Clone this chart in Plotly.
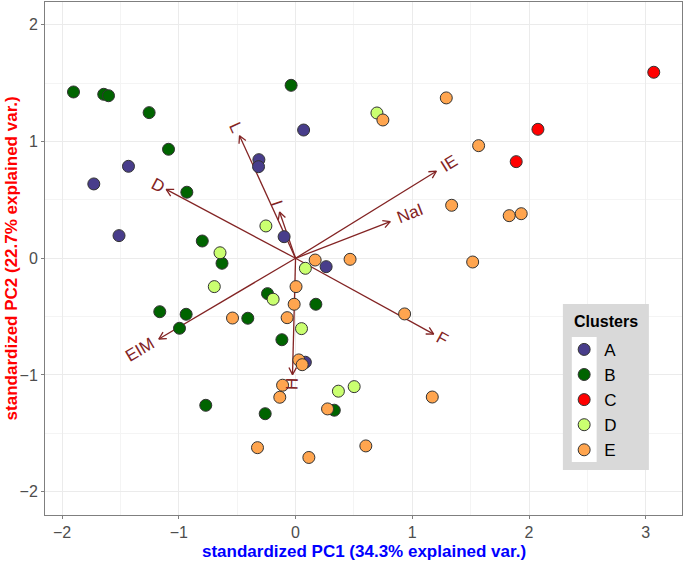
import numpy as np
import plotly.graph_objects as go

# PCA scores per cluster (standardized PC1, PC2)
a_pc1 = [0.069, -0.314, -0.317, -1.431, -1.728, -1.512, -0.098, 0.262, 0.084]
a_pc2 = [1.099, 0.845, 0.785, 0.788, 0.637, 0.194, 0.185, -0.072, -0.891]

b_pc1 = [-1.902, -1.643, -1.602, -1.254, -1.088, -0.931, -0.038, -0.799, -0.630, -0.240,
         0.174, -1.163, -0.937, -0.994, -0.409, -0.117, -0.769, -0.260, 0.332]
b_pc2 = [1.425, 1.405, 1.393, 1.248, 0.934, 0.566, 1.482, 0.148, -0.043, -0.303,
         -0.394, -0.458, -0.480, -0.600, -0.514, -0.698, -1.260, -1.332, -1.302]

c_pc1 = [3.068, 2.076, 1.890]
c_pc2 = [1.594, 1.105, 0.828]

d_pc1 = [0.697, -0.254, -0.647, 0.084, -0.696, -0.192, 0.051, 0.367, 0.502]
d_pc2 = [1.245, 0.277, 0.047, -0.086, -0.243, -0.351, -0.603, -1.139, -1.100]

e_pc1 = [1.291, 0.748, 1.568, 1.337, 1.830, 1.933, 0.168, 0.467, 1.517, 0.004, -0.012,
         -0.540, -0.072, 0.934, 0.028, 0.057, -0.111, -0.135, 1.171, 0.274, -0.326,
         0.602, 0.114]
e_pc2 = [1.374, 1.185, 0.965, 0.454, 0.365, 0.382, -0.015, -0.009, -0.032, -0.243, -0.394,
         -0.512, -0.509, -0.477, -0.871, -0.912, -1.088, -1.191, -1.189, -1.291, -1.623,
         -1.608, -1.707]

clusters = ["A", "B", "C", "D", "E"]
cluster_x = [a_pc1, b_pc1, c_pc1, d_pc1, e_pc1]
cluster_y = [a_pc2, b_pc2, c_pc2, d_pc2, e_pc2]
cluster_colors = ["#483D8B", "#006400", "#FF0000", "#CAFF70", "#FFA54F"]

# variable loadings (arrow tips)
var_names = ["L", "I", "D", "IE", "NaI", "F", "EIM", "H"]
var_x = [-0.48, -0.137, -1.108, 1.206, 0.811, 1.183, -1.171, -0.026]
var_y = [1.05, 0.396, 0.59, 0.746, 0.314, -0.650, -0.692, -0.997]

arrow_col = "#832424"
px_per_unit = 116.7

fig = go.Figure()

# arrows: shaft plus open chevron head
head = 8 / px_per_unit
for name, vx, vy in zip(var_names, var_x, var_y):
    ang = np.arctan2(vy, vx)
    hx, hy = [], []
    for s in (1, -1):
        a2 = ang + np.pi - s * np.radians(28)
        hx.append(vx + head * np.cos(a2))
        hy.append(vy + head * np.sin(a2))
    fig.add_trace(go.Scatter(
        x=[0, vx, None, hx[0], vx, hx[1]],
        y=[0, vy, None, hy[0], vy, hy[1]],
        mode="lines", line=dict(color=arrow_col, width=1.3),
        showlegend=False, hoverinfo="skip",
    ))

for cl, xs, ys, col in zip(clusters, cluster_x, cluster_y, cluster_colors):
    fig.add_trace(go.Scatter(
        x=xs, y=ys, mode="markers", name=cl,
        marker=dict(size=12, color=col, line=dict(color="#333333", width=1)),
    ))

# variable labels, rotated along arrow, placed past the tip
fs = 17
annotations = []
for name, vx, vy in zip(var_names, var_x, var_y):
    ang = np.arctan2(vy, vx)
    w = 0.6 * fs * len(name)
    off = (0.6 * w + 3) / px_per_unit
    lx = vx + off * np.cos(ang)
    ly = vy + off * np.sin(ang)
    deg = np.degrees(np.arctan(vy / vx))
    annotations.append(dict(
        x=lx, y=ly, xref="x", yref="y", text=name, showarrow=False,
        textangle=-deg, font=dict(color=arrow_col, size=fs, family="Liberation Sans"),
        xanchor="center", yanchor="middle",
    ))

annotations.append(dict(
    x=0.5, y=-0.072, xref="paper", yref="paper", yanchor="middle",
    text="<b>standardized PC1 (34.3% explained var.)</b>", showarrow=False,
    font=dict(color="#0000FF", size=17, family="Liberation Sans"),
))
annotations.append(dict(
    x=-0.052, y=0.5, xref="paper", yref="paper", xanchor="center",
    text="<b>standardized PC2 (22.7% explained var.)</b>", showarrow=False,
    textangle=-90, font=dict(color="#FF0000", size=17, family="Liberation Sans"),
))
annotations.append(dict(
    x=0.881, y=0.378, xref="paper", yref="paper", xanchor="center", yanchor="middle",
    text="<b>Clusters</b>", showarrow=False,
    font=dict(color="black", size=16, family="Liberation Sans"),
))

shapes = [
    dict(type="rect", xref="paper", yref="paper", x0=0.813, x1=0.948, y0=0.0877, y1=0.4113,
         fillcolor="#D9D9D9", line=dict(width=0), layer="above"),
    dict(type="rect", xref="paper", yref="paper", x0=0.827, x1=0.866, y0=0.1033, y1=0.347,
         fillcolor="white", line=dict(width=0), layer="above"),
]

grid = "#EBEBEB"
minor_grid = "#F4F4F4"
axis_common = dict(
    showline=True, linecolor="#7F7F7F", linewidth=1, mirror=True,
    ticks="outside", ticklen=3, tickcolor="#7F7F7F", dtick=1,
    showgrid=True, gridcolor=grid, gridwidth=1, zeroline=False,
    minor=dict(dtick=0.5, showgrid=True, gridcolor=minor_grid, gridwidth=1),
    tickfont=dict(color="#4D4D4D", size=16, family="Liberation Sans"),
    automargin=False,
)

fig.update_layout(
    width=685, height=562,
    margin=dict(l=45, r=3, t=2, b=47),
    paper_bgcolor="white", plot_bgcolor="white",
    xaxis=dict(range=[-2.146, 3.31], **axis_common),
    yaxis=dict(range=[-2.2, 2.196], **axis_common),
    annotations=annotations,
    shapes=shapes,
    legend=dict(
        font=dict(size=17, color="black", family="Liberation Sans"),
        x=0.815, y=0.357, xanchor="left", yanchor="top",
        bgcolor="rgba(0,0,0,0)", tracegroupgap=0,
    ),
)

fig.write_html("out.html", config={"displayModeBar": False},
               post_script="document.body.style.margin='0px';")
